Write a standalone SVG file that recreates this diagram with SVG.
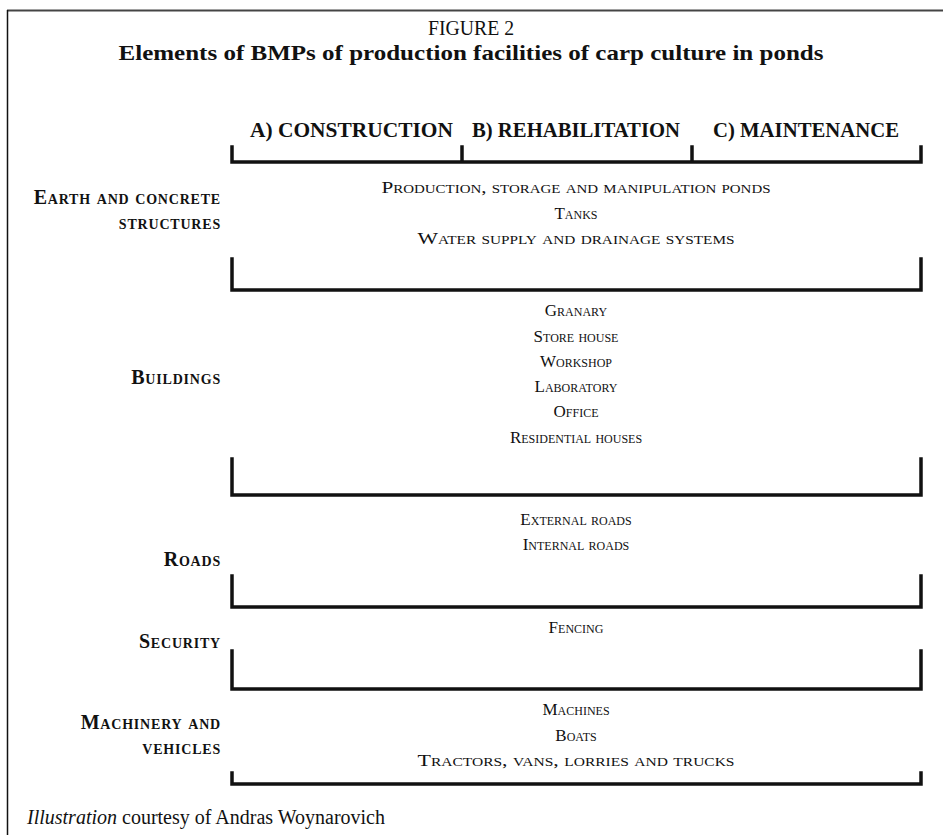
<svg xmlns="http://www.w3.org/2000/svg" width="943" height="835" viewBox="0 0 943 835">
<style>
.t{font-family:"Liberation Serif","Times New Roman",serif;fill:#111}
.sc{font-variant:small-caps;font-size:17px;text-anchor:middle}
.lb{font-variant:small-caps;font-size:20px;font-weight:bold;text-anchor:end;letter-spacing:0.8px}
.hd{font-size:22px;font-weight:bold}
.br{fill:none;stroke:#111;stroke-width:3.5;stroke-linejoin:miter;stroke-linecap:square}
</style>
<rect width="943" height="835" fill="#fff"/>
<g id="frame">
<line x1="7" y1="10.5" x2="943" y2="10.5" stroke="#444" stroke-width="2"/>
<line x1="7.5" y1="10" x2="7.5" y2="835" stroke="#111" stroke-width="1.5"/>
</g>
<g id="title">
<text class="t" x="471" y="35" font-size="20" text-anchor="middle" textLength="86" lengthAdjust="spacingAndGlyphs">FIGURE 2</text>
<text class="t" x="471" y="60" font-size="22" font-weight="bold" text-anchor="middle" textLength="705" lengthAdjust="spacingAndGlyphs">Elements of BMPs of production facilities of carp culture in ponds</text>
</g>
<g id="headers">
<text class="t hd" x="250" y="137" textLength="203" lengthAdjust="spacingAndGlyphs">A) CONSTRUCTION</text>
<text class="t hd" x="472" y="137" textLength="208" lengthAdjust="spacingAndGlyphs">B) REHABILITATION</text>
<text class="t hd" x="713" y="137" textLength="186" lengthAdjust="spacingAndGlyphs">C) MAINTENANCE</text>
</g>
<g id="connectors">
<path class="br" d="M232 147 V162 H921 V147 M462 147 V162 M692 147 V162"/>
<path class="br" d="M232 259 V290 H921 V259"/>
<path class="br" d="M232 459 V495 H921 V459"/>
<path class="br" d="M232 576 V607 H921 V576"/>
<path class="br" d="M232 651 V689 H921 V651"/>
<path class="br" d="M232 773 V784 H921 V773"/>
</g>
<g id="earth">
<text class="t lb" x="221" y="204">Earth and concrete</text>
<text class="t lb" x="221" y="229">structures</text>
<text class="t sc" x="576" y="193" textLength="389" lengthAdjust="spacingAndGlyphs">Production, storage and manipulation ponds</text>
<text class="t sc" x="576" y="219">Tanks</text>
<text class="t sc" x="576" y="244" textLength="317" lengthAdjust="spacingAndGlyphs">Water supply and drainage systems</text>
</g>
<g id="buildings">
<text class="t lb" x="221" y="384">Buildings</text>
<text class="t sc" x="576" y="316">Granary</text>
<text class="t sc" x="576" y="342">Store house</text>
<text class="t sc" x="576" y="367">Workshop</text>
<text class="t sc" x="576" y="392">Laboratory</text>
<text class="t sc" x="576" y="417">Office</text>
<text class="t sc" x="576" y="443">Residential houses</text>
</g>
<g id="roads">
<text class="t lb" x="221" y="566">Roads</text>
<text class="t sc" x="576" y="525">External roads</text>
<text class="t sc" x="576" y="550">Internal roads</text>
</g>
<g id="security">
<text class="t lb" x="221" y="648">Security</text>
<text class="t sc" x="576" y="633">Fencing</text>
</g>
<g id="machinery">
<text class="t lb" x="221" y="729">Machinery and</text>
<text class="t lb" x="221" y="754">vehicles</text>
<text class="t sc" x="576" y="715">Machines</text>
<text class="t sc" x="576" y="741">Boats</text>
<text class="t sc" x="576" y="766" textLength="317" lengthAdjust="spacingAndGlyphs">Tractors, vans, lorries and trucks</text>
</g>
<g id="footer">
<text class="t" x="27" y="824" font-size="20"><tspan font-style="italic">Illustration</tspan> courtesy of Andras Woynarovich</text>
</g>
</svg>
